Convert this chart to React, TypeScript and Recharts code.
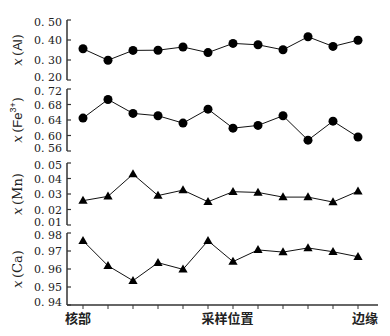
import React from "react";
import { LineChart, Line, XAxis, YAxis, Label } from "recharts";

// sample positions from core to rim
const sampleIdx = [0, 1, 2, 3, 4, 5, 6, 7, 8, 9, 10, 11];
const xTickLabels = ["核部", "", "", "", "", "", "", "", "", "", "", "边缘"];
const positionTitle = "采样位置";

const alValues = [0.356, 0.299, 0.348, 0.349, 0.365, 0.337, 0.383, 0.376, 0.351, 0.416, 0.368, 0.399];
const alTicks = [0.2, 0.3, 0.4, 0.5];

const feValues = [0.645, 0.693, 0.657, 0.651, 0.632, 0.668, 0.619, 0.626, 0.651, 0.588, 0.637, 0.596];
const feTicks = [0.56, 0.6, 0.64, 0.68, 0.72];

const mnValues = [0.0257, 0.0285, 0.0428, 0.029, 0.0325, 0.025, 0.0315, 0.031, 0.028, 0.028, 0.0248, 0.0318];
const mnTicks = [0.01, 0.02, 0.03, 0.04, 0.05];

const caValues = [0.9757, 0.9618, 0.9535, 0.9635, 0.9598, 0.9757, 0.9641, 0.9706, 0.9694, 0.9717, 0.9696, 0.9668];
const caTicks = [0.94, 0.95, 0.96, 0.97, 0.98];

const W = 390;
const H = 336;
const AXIS = "#333";
const INK = "#111";
const SERIF = "'DejaVu Serif', serif";
const SANS = "'Liberation Sans', sans-serif";
const CJK = "'Noto Sans CJK SC', sans-serif";

const fmt = (v: number) => v.toFixed(2).replace(".", ". ");

function YTick(props: any) {
  const { x, y, payload, index, visibleTicksCount } = props;
  // end labels sit a little inside the range, like the original
  const nudge = index === 0 ? -3 : index === visibleTicksCount - 1 ? 1.5 : 0;
  return (
    <g>
      <text x={x} y={y + nudge} dy={4} textAnchor="end" fontFamily={SERIF} fontSize={11} fill="#222">
        {fmt(payload.value)}
      </text>
      <line x1={x + 5} x2={x + 9} y1={y} y2={y} stroke={AXIS} strokeWidth={1.2} />
    </g>
  );
}

function XTick(props: any) {
  const { x, y, payload } = props;
  const text = xTickLabels[payload.value];
  if (!text) return <g />;
  const shift = payload.value === 0 ? -5 : 7;
  return (
    <text x={x + shift} y={y} dy={12} textAnchor="middle" fontFamily={CJK} fontWeight="bold" fontSize={13} fill="#222">
      {text}
    </text>
  );
}

function TriDot(props: any) {
  const { cx, cy, index } = props;
  if (cx == null || cy == null) return <g key={index} />;
  return <path key={index} d={`M${cx},${cy - 4.8} L${cx + 4.6},${cy + 3.2} L${cx - 4.6},${cy + 3.2} Z`} fill="#000" />;
}

const yTitle = (children: React.ReactNode) => (props: any) => {
  const vb = props.viewBox;
  const cx = vb.x + 22;
  const cy = vb.y + vb.height / 2;
  return (
    <text x={cx} y={cy} transform={`rotate(-90 ${cx} ${cy})`} textAnchor="middle" fontSize={13} fill="#222" fontFamily={SERIF}>
      {children}
    </text>
  );
};

type PanelProps = {
  values: number[];
  ticks: number[];
  top: number;
  bottom: number;
  right: number;
  marker: "circle" | "triangle";
  title: React.ReactNode;
  showX?: boolean;
};

function Panel({ values, ticks, top, bottom, right, marker, title, showX }: PanelProps) {
  const data = sampleIdx.map((i, k) => ({ idx: i, v: values[k] }));
  const xH = showX ? 31 : 0;
  const xMax = 11 + (right - 358) / 25;
  return (
    <LineChart
      width={W}
      height={H}
      data={data}
      margin={{ top, right: W - right, left: 0, bottom: H - bottom - xH }}
      style={{ position: "absolute", left: 0, top: 0 }}
    >
      <XAxis
        type="number"
        dataKey="idx"
        domain={[-0.64, xMax]}
        ticks={sampleIdx}
        height={xH}
        axisLine={{ stroke: AXIS, strokeWidth: 1.5 }}
        tickLine={showX ? { stroke: AXIS, strokeWidth: 1 } : false}
        tickSize={4}
        tickMargin={2}
        tick={showX ? <XTick /> : false}
        interval={0}
      >
        {showX && (
          <Label
            content={(p: any) => {
              const vb = p.viewBox;
              return (
                <text x={vb.x + vb.width / 2 + 5} y={vb.y + 18} textAnchor="middle" fontFamily={CJK} fontWeight="bold" fontSize={13} fill="#222">
                  {positionTitle}
                </text>
              );
            }}
          />
        )}
      </XAxis>
      <YAxis
        type="number"
        domain={[ticks[0], ticks[ticks.length - 1]]}
        ticks={ticks}
        width={67}
        tickSize={0}
        tickMargin={5}
        tick={<YTick />}
        interval={0}
        axisLine={{ stroke: AXIS, strokeWidth: 1.5 }}
      >
        <Label content={yTitle(title)} />
      </YAxis>
      <Line
        type="linear"
        dataKey="v"
        stroke={INK}
        strokeWidth={1}
        isAnimationActive={false}
        dot={marker === "circle" ? { r: 4.5, fill: "#000", stroke: "#000", strokeWidth: 0 } : <TriDot />}
        activeDot={false}
      />
    </LineChart>
  );
}

export default function App() {
  return (
    <div style={{ position: "absolute", left: 0, top: 0, width: W, height: H, background: "#fff" }}>
      <Panel
        values={alValues}
        ticks={alTicks}
        top={20}
        bottom={80}
        right={373}
        marker="circle"
        title={
          <>
            <tspan fontStyle="italic">x</tspan>
            <tspan>{"\u2009("}</tspan>
            <tspan fontFamily={SANS}>Al</tspan>
            <tspan>)</tspan>
          </>
        }
      />
      <Panel
        values={feValues}
        ticks={feTicks}
        top={89}
        bottom={151}
        right={373}
        marker="circle"
        title={
          <>
            <tspan fontStyle="italic">x</tspan>
            <tspan>{"\u2009("}</tspan>
            <tspan fontFamily={SANS}>Fe</tspan>
            <tspan fontFamily={SANS} fontSize={9} dy={-6}>3+</tspan>
            <tspan dy={6}>)</tspan>
          </>
        }
      />
      <Panel
        values={mnValues}
        ticks={mnTicks}
        top={163}
        bottom={225}
        right={378}
        marker="triangle"
        title={
          <>
            <tspan fontStyle="italic">x</tspan>
            <tspan>{"\u2009(Mn)"}</tspan>
          </>
        }
      />
      <Panel
        values={caValues}
        ticks={caTicks}
        top={233}
        bottom={305}
        right={378}
        marker="triangle"
        showX
        title={
          <>
            <tspan fontStyle="italic">x</tspan>
            <tspan>{"\u2009(Ca)"}</tspan>
          </>
        }
      />
    </div>
  );
}
